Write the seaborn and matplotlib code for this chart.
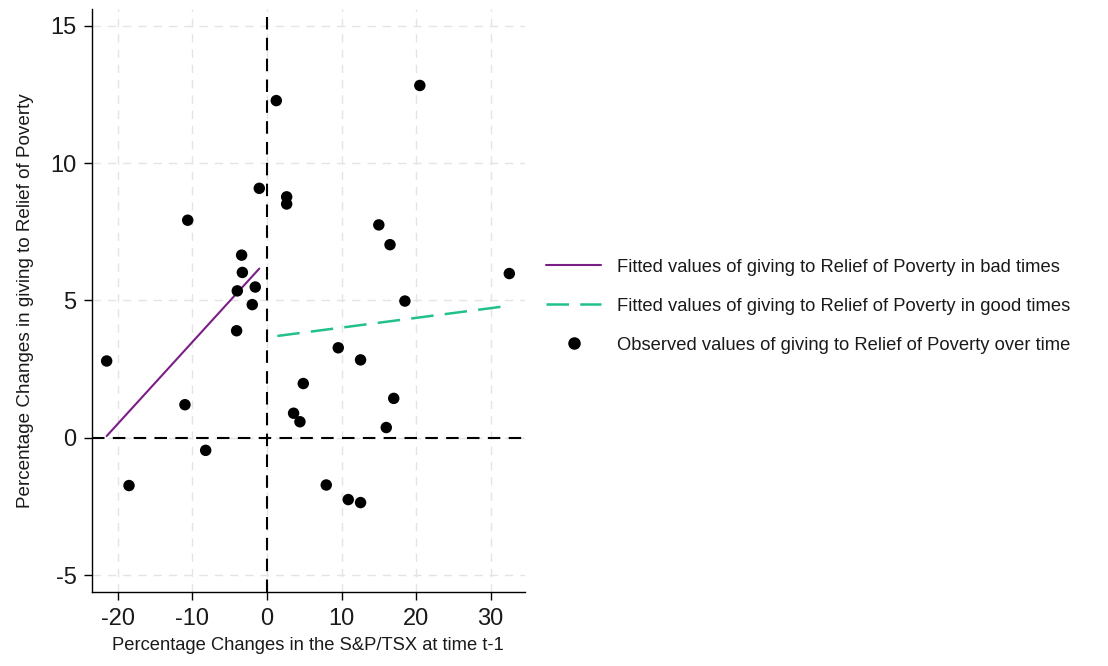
import matplotlib
matplotlib.use("Agg")
import matplotlib.pyplot as plt
import seaborn as sns
import pandas as pd
from matplotlib.lines import Line2D

# Observed values (x: % change S&P/TSX at t-1, y: % change in giving)
obs_x = [1.25, 20.5, -1.03, 2.64, 2.64, -10.63, 15.0, 16.5, -3.4, -3.3,
         -1.57, -3.98, 32.5, 18.5, -1.97, -4.07, -21.5, -11.0, -8.22, -18.5,
         9.56, 12.55, 4.87, 17.0, 3.57, 4.42, 16.0, 7.95, 10.9, 12.55]
obs_y = [12.27, 12.82, 9.08, 8.77, 8.51, 7.92, 7.75, 7.03, 6.65, 6.02,
         5.49, 5.35, 5.98, 4.98, 4.85, 3.90, 2.80, 1.21, -0.45, -1.73,
         3.28, 2.84, 1.98, 1.44, 0.90, 0.59, 0.38, -1.71, -2.24, -2.35]

# Fitted lines (endpoints)
bad_x = [-21.5, -1.03]
bad_y = [0.07, 6.16]
good_x = [1.39, 32.5]
good_y = [3.71, 4.81]

x_ticks = [-20, -10, 0, 10, 20, 30]
y_ticks = [-5, 0, 5, 10, 15]

lab_bad = "Fitted values of giving to Relief of Poverty in bad times"
lab_good = "Fitted values of giving to Relief of Poverty in good times"
lab_obs = "Observed values of giving to Relief of Poverty over time"

sns.set_theme(style="white")
plt.rcParams['font.family'] = ['Liberation Sans', 'DejaVu Sans']
plt.rcParams['axes.unicode_minus'] = False
plt.rcParams['text.color'] = '#1a1a1a'
plt.rcParams['axes.labelcolor'] = '#1a1a1a'

fig = plt.figure(figsize=(11.08, 6.66), dpi=100)
ax = fig.add_axes([0.0828, 0.1116, 0.391, 0.8744])

purple = "#7a1f86"
green = "#22c08a"

# grid
for xt in x_ticks:
    ax.axvline(xt, color="#e4e4e4", lw=1.0, ls=(0, (6, 5)), zorder=0)
for yt in y_ticks:
    ax.axhline(yt, color="#e4e4e4", lw=1.0, ls=(0, (6, 5)), zorder=0)

# reference lines
ax.axvline(0, color="black", lw=1.5, ls=(0, (6, 4)), zorder=1)
ax.axhline(0, color="black", lw=1.5, ls=(0, (6, 4)), zorder=1)

df_bad = pd.DataFrame({"x": bad_x, "y": bad_y})
df_good = pd.DataFrame({"x": good_x, "y": good_y})
df_obs = pd.DataFrame({"x": obs_x, "y": obs_y})

sns.lineplot(data=df_bad, x="x", y="y", ax=ax, color=purple, lw=1.5, zorder=2)
sns.lineplot(data=df_good, x="x", y="y", ax=ax, color=green, lw=1.8, zorder=2,
             dashes=False)
ax.lines[-1].set_linestyle((0, (9, 4.5)))
sns.scatterplot(data=df_obs, x="x", y="y", ax=ax, color="black", s=68,
                edgecolor="none", zorder=3)

ax.set_xlim(-23.5, 34.6)
ax.set_ylim(-5.59, 15.59)
ax.set_xticks(x_ticks)
ax.set_yticks(y_ticks)
ax.tick_params(axis="both", which="major", labelsize=17, length=6, width=1.0,
               direction="out", colors="black", labelcolor="#1a1a1a",
               bottom=True, left=True)
ax.tick_params(axis="x", pad=6)
ax.tick_params(axis="y", pad=5)
for s in ["top", "right"]:
    ax.spines[s].set_visible(False)
for s in ["left", "bottom"]:
    ax.spines[s].set_color("black")
    ax.spines[s].set_linewidth(1.0)

ax.set_xlabel("Percentage Changes in the S&P/TSX at time t-1", fontsize=13.2,
              labelpad=5)
ax.set_ylabel("Percentage Changes in giving to Relief of Poverty", fontsize=13.6,
              labelpad=12)

handles = [
    Line2D([0], [0], color=purple, lw=1.5),
    Line2D([0], [0], color=green, lw=1.8, ls=(0, (9, 4.5))),
    Line2D([0], [0], color="black", marker="o", ls="none", markersize=8),
]
leg = fig.legend(handles, [lab_bad, lab_good, lab_obs], loc="center left",
                 bbox_to_anchor=(0.478, 0.54), frameon=False, fontsize=13.2,
                 handlelength=3.0, labelspacing=1.2, handletextpad=0.85)

fig.savefig("out.png", dpi=100)
